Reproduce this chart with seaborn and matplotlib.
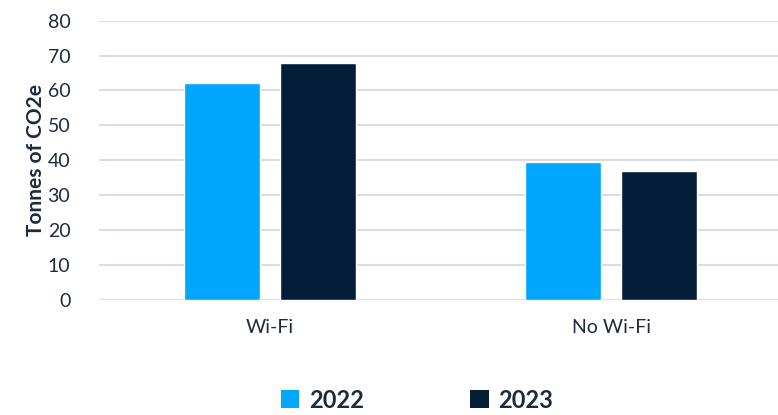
import matplotlib
matplotlib.use("Agg")
import matplotlib.pyplot as plt
import seaborn as sns
import pandas as pd
from matplotlib.patches import Patch

categories = ["Wi-Fi", "No Wi-Fi"]
years = ["2022", "2023"]
values_2022 = [62.1, 39.4]
values_2023 = [68.0, 36.9]
yticks = [0, 10, 20, 30, 40, 50, 60, 70, 80]

df = pd.DataFrame({
    "Category": categories * 2,
    "Year": [years[0]] * 2 + [years[1]] * 2,
    "Value": values_2022 + values_2023,
})

sns.set_style("white")
plt.rcParams["font.family"] = ["Lato", "DejaVu Sans"]
text_color = "#1d2b3f"

fig = plt.figure(figsize=(7.78, 4.15), dpi=100)
ax = fig.add_axes([99.5 / 778, 115.3 / 415, 682 / 778, 279 / 415])

palette = {"2022": "#00a6ff", "2023": "#041e3a"}
sns.barplot(data=df, x="Category", y="Value", hue="Year", palette=palette,
            width=0.566, gap=0.215, ax=ax, legend=False, saturation=1)

ax.set_ylim(0, 80)
ax.set_xlim(-0.5, 1.5)
ax.set_yticks(yticks)
ax.yaxis.grid(True, color="#dcdbe6", linewidth=1.5)
ax.set_axisbelow(True)
for s in ax.spines.values():
    s.set_visible(False)
ax.tick_params(axis="both", length=0, labelsize=14, colors=text_color)
ax.tick_params(axis="y", pad=21)
ax.tick_params(axis="x", pad=14)
ax.set_xlabel("")
ax.set_ylabel("Tonnes of CO2e", fontsize=15, fontweight="bold", color=text_color, labelpad=1)

handles = [Patch(facecolor=palette[y], edgecolor="none") for y in years]
leg = fig.legend(handles, years, loc="center", bbox_to_anchor=(417 / 778, 1 - 400 / 415),
                 ncol=2, frameon=False, handlelength=0.8, handleheight=0.8,
                 handletextpad=0.4, columnspacing=4.5,
                 prop={"weight": "bold", "size": 17})
for t in leg.get_texts():
    t.set_color(text_color)

fig.savefig("out.png", dpi=100)
